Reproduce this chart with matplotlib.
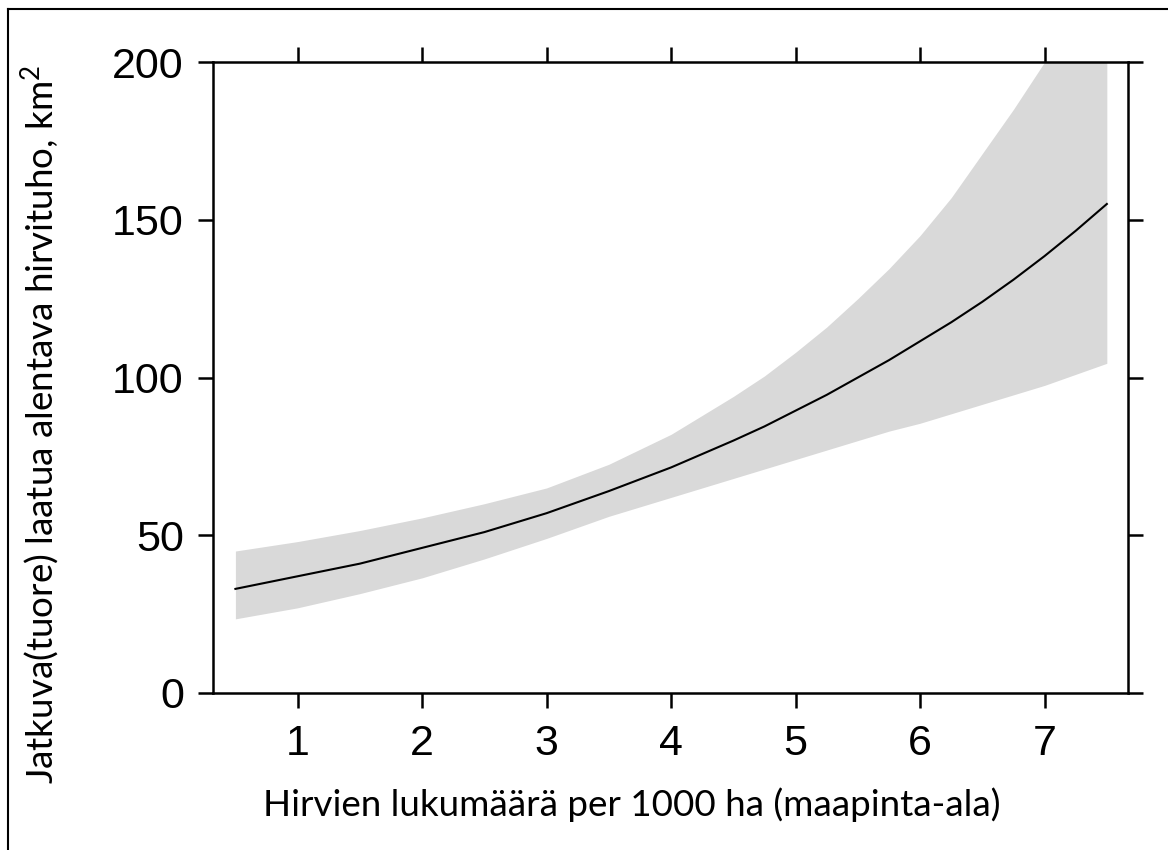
#!/usr/bin/env python3
"""Moose density vs. damaged area, with confidence band."""
import matplotlib
matplotlib.use('Agg')
import matplotlib.pyplot as plt
from matplotlib.lines import Line2D

# Data
moose_density = [0.5, 1.0, 1.5, 2.0, 2.5, 3.0, 3.5, 4.0, 4.5, 4.75, 5.0, 5.25, 5.5,
                 5.75, 6.0, 6.25, 6.5, 6.75, 7.0, 7.25, 7.5]
damage_mean = [33, 37, 41, 46, 51, 57, 64, 71.5, 80, 84.5, 89.5, 94.5, 100,
               105.5, 111.5, 117.5, 124, 131, 138.5, 146.5, 155]
damage_lower = [23.5, 27, 31.5, 36.5, 42.5, 49, 56, 62, 68, 71, 74, 77, 80,
                83, 85.5, 88.5, 91.5, 94.5, 97.5, 101, 104.5]
damage_upper = [45, 48, 51.5, 55.5, 60, 65, 72.5, 82, 94, 100.5, 108, 116, 125,
                134.5, 145, 157, 171, 185, 200, 216, 232]

x_ticks = [1, 2, 3, 4, 5, 6, 7]
y_ticks = [0, 50, 100, 150, 200]

xlabel = 'Hirvien lukumäärä per 1000 ha (maapinta-ala)'
ylabel = r'Jatkuva(tuore) laatua alentava hirvituho, km$^2$'

plt.rcParams['mathtext.fontset'] = 'custom'
plt.rcParams['mathtext.rm'] = 'Lato'
plt.rcParams['mathtext.it'] = 'Lato'

W, H = 1168, 850
fig = plt.figure(figsize=(W / 100, H / 100), dpi=100)
ax = fig.add_axes([213 / W, 1 - 693 / H, (1128 - 213) / W, (693 - 62) / H])

ax.fill_between(moose_density, damage_lower, damage_upper, color='#d9d9d9', lw=0)
ax.plot(moose_density, damage_mean, color='black', lw=1.5)

ax.set_xlim(0.32, 7.67)
ax.set_ylim(0, 200)
ax.set_xticks(x_ticks)
ax.set_yticks(y_ticks)

for s in ax.spines.values():
    s.set_linewidth(1.8)

tick_font = 'Liberation Sans'
ax.tick_params(axis='both', direction='out', length=11, width=1.8,
               labelsize=31, top=True, right=True, labeltop=False, labelright=False)
ax.tick_params(axis='x', pad=11)
ax.tick_params(axis='y', pad=10)
for lab in ax.get_xticklabels() + ax.get_yticklabels():
    lab.set_fontfamily(tick_font)

# Axis titles
fig.text(632 / W, 1 - 805 / H, xlabel, ha='center', va='center',
         fontsize=26.5, family='Lato')
fig.text(40 / W, 1 - 424 / H, ylabel, ha='center', va='center',
         rotation=90, fontsize=26.5, family='Lato')

# Frame lines at top and left edges of the image
fig.add_artist(Line2D([8 / W, 8 / W], [0, 1 - 9 / H], transform=fig.transFigure,
                      color='black', lw=1.5))
fig.add_artist(Line2D([8 / W, 1], [1 - 9 / H, 1 - 9 / H], transform=fig.transFigure,
                      color='black', lw=1.5))

fig.savefig('out.png', dpi=100)
